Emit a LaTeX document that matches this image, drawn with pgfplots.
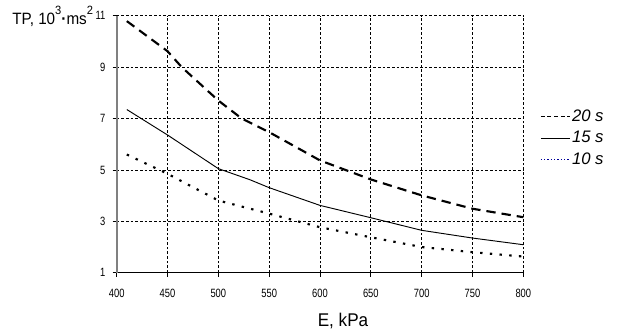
\documentclass[border=0pt]{standalone}
\usepackage{pgfplots}
\pgfplotsset{compat=1.18}
\usepackage{fontspec}
\setmainfont{Liberation Sans}
\newfontfamily\tickfont[FakeStretch=0.78]{Liberation Sans}
\newfontfamily\labfont[FakeStretch=0.93]{Liberation Sans}
\begin{document}
\begin{tikzpicture}
\path[use as bounding box] (0pt,0pt) rectangle (467.25pt,251.25pt);
\begin{axis}[
  at={(87.5pt,46.7pt)}, anchor=south west,
  scale only axis, width=305pt, height=192.75pt,
  xmin=400, xmax=800, ymin=1, ymax=11,
  xtick={400,450,500,550,600,650,700,750,800},
  ytick={1,3,5,7,9,11},
  axis x line*=bottom, axis y line*=left,
  x axis line style={black, line width=0.9pt, -},
  y axis line style={gray, line width=1.3pt, -},
  tick pos=left,
  grid=major,
  major grid style={black, dash pattern=on 2pt off 1.5pt, line width=0.6pt},
  tick align=outside, major tick length=3pt,
  tick style={black, line width=0.6pt},
  ticklabel style={font=\tickfont\fontsize{9}{9}\selectfont},
  xticklabel style={yshift=-6pt},
  yticklabel style={xshift=-2pt},
  /pgf/number format/assume math mode=true,
  /pgf/number format/1000 sep={},
  clip=false,
  legend cell align=left,
  legend style={draw=none, fill=none, inner sep=0pt,
    at={(1.041,0.64)}, anchor=north west,
    font=\itshape\fontsize{12.5}{13}\selectfont, row sep=4pt,
    nodes={inner sep=1pt}},
  legend image code/.code={\draw[#1] (0pt,0pt) -- (22pt,0pt);},
]
\addplot[black, line width=1.6pt, dash pattern=on 7pt off 4.5pt, forget plot] coordinates {
(410,10.79)(450,9.62)(464,9.0)(500,7.70)(523,7.0)(550,6.47)(600,5.37)(650,4.63)(700,4.01)(750,3.49)(800,3.16)};
\addplot[black, line width=0.7pt, forget plot] coordinates {
(410,7.35)(450,6.36)(500,5.05)(531,4.62)(550,4.31)(600,3.62)(650,3.14)(700,2.65)(750,2.35)(800,2.09)};
\addplot[black, line width=1.6pt, dash pattern=on 1.8pt off 5.5pt, forget plot] coordinates {
(410,5.60)(450,4.85)(500,3.81)(550,3.30)(600,2.77)(650,2.38)(700,2.00)(750,1.80)(800,1.63)};
\addlegendimage{black, line width=0.6pt, dash pattern=on 3pt off 2pt}
\addlegendentry{20 s}
\addlegendimage{black, line width=0.8pt}
\addlegendentry{15 s}
\addlegendimage{blue!60!black, line width=0.6pt, dash pattern=on 1pt off 1.5pt}
\addlegendentry{10 s}
\end{axis}
\node[anchor=base west, font=\labfont\fontsize{12.3}{13}\selectfont, inner sep=0pt] at (9pt,232.5pt) {TP, 10\raisebox{0.62em}{\fontsize{9}{10}\selectfont 3}\textbf{·}ms\raisebox{0.62em}{\fontsize{9}{10}\selectfont 2}};
\node[anchor=base, font=\labfont\fontsize{13.8}{14}\selectfont, inner sep=0pt] at (257.25pt,6.2pt) {E, kPa};
\end{tikzpicture}
\end{document}
